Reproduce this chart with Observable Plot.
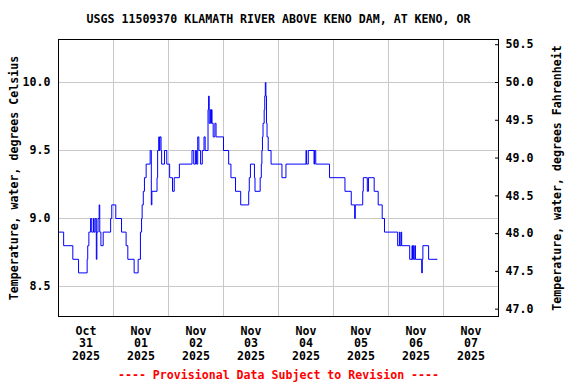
<!DOCTYPE html>
<html>
<head>
<meta charset="utf-8">
<script src="https://cdn.jsdelivr.net/npm/d3@7"></script>
<script src="https://cdn.jsdelivr.net/npm/@observablehq/plot@0.6"></script>
<style>
  html, body { margin: 0; padding: 0; background: #fff; }
  #chart svg { display: block; }
</style>
</head>
<body>
<div id="chart"></div>
<script>
// ---- Data (step changes of 15-minute readings) ----
const title = "USGS 11509370 KLAMATH RIVER ABOVE KENO DAM, AT KENO, OR";
const caption = "---- Provisional Data Subject to Revision ----";
const yLabelLeft = "Temperature, water, degrees Celsius";
const yLabelRight = "Temperature, water, degrees Fahrenheit";

const times = [
  "2025-10-31T00:00","2025-10-31T02:15","2025-10-31T06:15","2025-10-31T08:45","2025-10-31T12:30",
  "2025-10-31T12:45","2025-10-31T13:15","2025-10-31T14:00","2025-10-31T14:30","2025-10-31T15:15",
  "2025-10-31T15:30","2025-10-31T16:00","2025-10-31T16:30","2025-10-31T16:45","2025-10-31T17:15",
  "2025-10-31T17:45","2025-10-31T18:00","2025-10-31T18:30","2025-10-31T19:30","2025-10-31T22:45",
  "2025-10-31T23:15","2025-11-01T01:00","2025-11-01T03:30","2025-11-01T05:30","2025-11-01T06:15",
  "2025-11-01T09:00","2025-11-01T10:45","2025-11-01T11:45","2025-11-01T12:15","2025-11-01T12:30",
  "2025-11-01T13:00","2025-11-01T13:30","2025-11-01T14:15","2025-11-01T16:00","2025-11-01T16:30",
  "2025-11-01T16:45","2025-11-01T19:00","2025-11-01T19:15","2025-11-01T19:45","2025-11-01T20:00",
  "2025-11-01T20:15","2025-11-01T20:45","2025-11-01T21:00","2025-11-01T22:15","2025-11-01T23:15",
  "2025-11-02T00:30","2025-11-02T01:45","2025-11-02T02:30","2025-11-02T04:45","2025-11-02T10:15",
  "2025-11-02T11:00","2025-11-02T11:45","2025-11-02T12:15","2025-11-02T12:45","2025-11-02T13:15",
  "2025-11-02T14:00","2025-11-02T14:45","2025-11-02T15:30","2025-11-02T16:00","2025-11-02T17:15",
  "2025-11-02T17:30","2025-11-02T17:45","2025-11-02T18:15","2025-11-02T18:30","2025-11-02T18:45",
  "2025-11-02T19:00","2025-11-02T19:30","2025-11-02T20:15","2025-11-02T20:45","2025-11-03T00:00",
  "2025-11-03T02:15","2025-11-03T03:15","2025-11-03T05:15","2025-11-03T07:30","2025-11-03T11:00",
  "2025-11-03T11:15","2025-11-03T11:45","2025-11-03T13:30","2025-11-03T13:45","2025-11-03T16:00",
  "2025-11-03T16:30","2025-11-03T16:45","2025-11-03T17:00","2025-11-03T17:15","2025-11-03T17:45",
  "2025-11-03T18:00","2025-11-03T18:15","2025-11-03T18:30","2025-11-03T18:45","2025-11-03T19:00",
  "2025-11-03T19:30","2025-11-03T20:45","2025-11-04T01:30","2025-11-04T03:15","2025-11-04T12:00",
  "2025-11-04T12:15","2025-11-04T13:00","2025-11-04T15:30","2025-11-04T15:45","2025-11-04T16:15",
  "2025-11-04T22:15","2025-11-05T05:00","2025-11-05T07:45","2025-11-05T09:15","2025-11-05T09:30",
  "2025-11-05T12:45","2025-11-05T13:00","2025-11-05T14:45","2025-11-05T15:15","2025-11-05T17:45",
  "2025-11-05T19:30","2025-11-05T21:15","2025-11-05T22:15","2025-11-06T04:00","2025-11-06T04:45",
  "2025-11-06T05:00","2025-11-06T05:30","2025-11-06T05:45","2025-11-06T09:15","2025-11-06T10:15",
  "2025-11-06T10:30","2025-11-06T10:45","2025-11-06T11:00","2025-11-06T11:30","2025-11-06T11:45",
  "2025-11-06T14:30","2025-11-06T14:45","2025-11-06T15:00","2025-11-06T17:30","2025-11-06T21:15"
];
const tempC = [
  8.9, 8.8, 8.7, 8.6, 8.7,
  8.8, 8.9, 9.0, 8.9, 9.0,
  8.9, 9.0, 8.7, 8.9, 9.0,
  9.1, 8.9, 8.8, 8.9, 9.0,
  9.1, 9.0, 8.9, 8.8, 8.7,
  8.6, 8.7, 8.9, 9.0, 9.1,
  9.2, 9.3, 9.4, 9.5, 9.1,
  9.2, 9.3, 9.5, 9.6, 9.5,
  9.6, 9.5, 9.4, 9.5, 9.4,
  9.3, 9.2, 9.3, 9.4, 9.5,
  9.4, 9.5, 9.4, 9.6, 9.5,
  9.4, 9.5, 9.6, 9.5, 9.8,
  9.9, 9.7, 9.8, 9.7, 9.8,
  9.7, 9.6, 9.7, 9.6, 9.5,
  9.4, 9.3, 9.2, 9.1, 9.2,
  9.3, 9.4, 9.3, 9.2, 9.3,
  9.4, 9.5, 9.6, 9.7, 9.8,
  9.9, 10.0, 9.9, 9.7, 9.6,
  9.5, 9.4, 9.3, 9.4, 9.5,
  9.4, 9.5, 9.4, 9.5, 9.4,
  9.3, 9.2, 9.1, 9.0, 9.1,
  9.2, 9.3, 9.2, 9.3, 9.2,
  9.1, 9.0, 8.9, 8.8, 8.9,
  8.8, 8.9, 8.8, 8.7, 8.8,
  8.7, 8.8, 8.7, 8.8, 8.7,
  8.6, 8.7, 8.8, 8.7, 8.7
];

const celsiusTicks = [8.5, 9.0, 9.5, 10.0];
const fahrenheitTicks = [47.0, 47.5, 48.0, 48.5, 49.0, 49.5, 50.0, 50.5];
const dayStarts = ["2025-10-31","2025-11-01","2025-11-02","2025-11-03","2025-11-04","2025-11-05","2025-11-06","2025-11-07","2025-11-08"];
const dayLabels = ["Oct\n31\n2025","Nov\n01\n2025","Nov\n02\n2025","Nov\n03\n2025","Nov\n04\n2025","Nov\n05\n2025","Nov\n06\n2025","Nov\n07\n2025"];
const yDomainC = [8.2794, 10.3162];

// ---- Build ----
const parseT = d3.utcParse("%Y-%m-%dT%H:%M");
const parseD = d3.utcParse("%Y-%m-%d");
const series = times.map((t, i) => ({date: parseT(t), value: tempC[i]}));
const days = dayStarts.map(parseD);
const dayMid = dayLabels.map((label, i) => ({date: new Date((+days[i] + +days[i + 1]) / 2), label}));
const f2c = f => (f - 32) / 1.8;
const fTicks = fahrenheitTicks.map(f => ({c: f2c(f), label: f.toFixed(1)}));

const font = "DejaVu Sans Mono";
const chart = Plot.plot({
  width: 576,
  height: 384,
  marginLeft: 58,
  marginRight: 78,
  marginTop: 39,
  marginBottom: 68,
  style: {fontFamily: font, fontWeight: "bold", fontSize: "11.6px", background: "#fff", color: "#000", overflow: "visible"},
  x: {type: "utc", domain: [days[0], days[days.length - 1]], axis: null},
  y: {domain: yDomainC, axis: null},
  marks: [
    Plot.gridX(days.slice(1, -1), {stroke: "#c8c8c8", strokeOpacity: 1}),
    Plot.gridY(celsiusTicks, {stroke: "#c8c8c8", strokeOpacity: 1}),
    Plot.line(series, {x: "date", y: "value", curve: "step-after", stroke: "#0000ff", strokeWidth: 1}),
    Plot.frame({stroke: "#000"}),
    Plot.axisY(celsiusTicks, {anchor: "left", tickSize: 0, tickPadding: 8, tickFormat: d => d.toFixed(1), label: null}),
    Plot.axisY(fTicks.map(d => d.c), {anchor: "right", tickSize: 4, dx: -4, tickFormat: () => "", label: null}),
    Plot.text(fTicks, {y: "c", text: "label", frameAnchor: "right", textAnchor: "start", dx: 7}),
    Plot.text(dayMid, {x: "date", text: "label", frameAnchor: "bottom", lineAnchor: "top", dy: 9, lineHeight: 1.1}),
    Plot.text([yLabelLeft], {text: d => d, frameAnchor: "left", textAnchor: "middle", rotate: -90, dx: -44}),
    Plot.text([yLabelRight], {text: d => d, frameAnchor: "right", textAnchor: "middle", rotate: -90, dx: 59}),
    Plot.text([title], {text: d => d, frameAnchor: "top", lineAnchor: "middle", dy: -20}),
    Plot.text([caption], {text: d => d, frameAnchor: "bottom", lineAnchor: "middle", dy: 59, fill: "#ff0000"})
  ]
});
document.getElementById("chart").append(chart);
</script>
</body>
</html>
